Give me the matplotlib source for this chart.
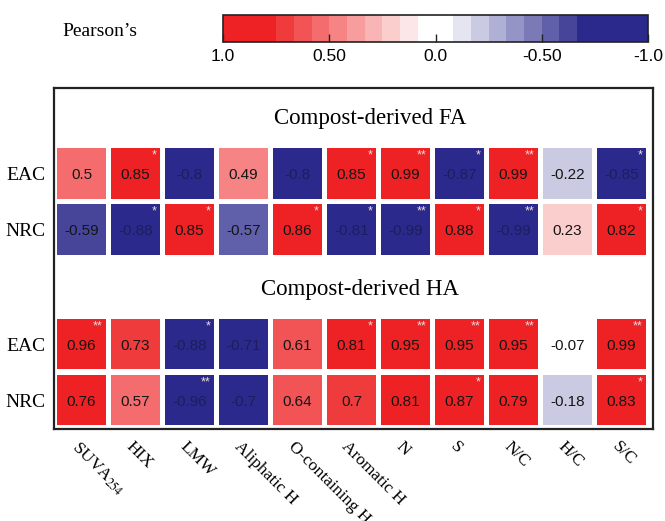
import numpy as np
import matplotlib
matplotlib.use("Agg")
import matplotlib.pyplot as plt
from matplotlib.colors import ListedColormap, BoundaryNorm
from matplotlib.patches import Rectangle
from matplotlib.cm import ScalarMappable

plt.rcParams['font.family'] = ['Liberation Sans', 'DejaVu Sans']
plt.rcParams['mathtext.fontset'] = 'stix'

#######################
###     data        ###
#######################

variables = ['SUVA$_{254}$', 'HIX', 'LMW', 'Aliphatic H', 'O-containing H',
             'Aromatic H', 'N', 'S', 'N/C', 'H/C', 'S/C']
groups = ['Compost-derived FA', 'Compost-derived HA']
row_names = ['EAC', 'NRC']

fa_eac = [0.5, 0.85, -0.8, 0.49, -0.8, 0.85, 0.99, -0.87, 0.99, -0.22, -0.85]
fa_nrc = [-0.59, -0.88, 0.85, -0.57, 0.86, -0.81, -0.99, 0.88, -0.99, 0.23, 0.82]
ha_eac = [0.96, 0.73, -0.88, -0.71, 0.61, 0.81, 0.95, 0.95, 0.95, -0.07, 0.99]
ha_nrc = [0.76, 0.57, -0.96, -0.7, 0.64, 0.7, 0.81, 0.87, 0.79, -0.18, 0.83]

fa_eac_sig = ['', '*', '', '', '', '*', '**', '*', '**', '', '*']
fa_nrc_sig = ['', '*', '*', '', '*', '*', '**', '*', '**', '', '*']
ha_eac_sig = ['**', '', '*', '', '', '*', '**', '**', '**', '', '**']
ha_nrc_sig = ['', '', '**', '', '', '', '', '*', '', '', '*']

cbar_ticks = [1.0, 0.5, 0.0, -0.5, -1.0]
cbar_ticklabels = ['1.0', '0.50', '0.0', '-0.50', '-1.0']

values = [[fa_eac, fa_nrc], [ha_eac, ha_nrc]]
sigs = [[fa_eac_sig, fa_nrc_sig], [ha_eac_sig, ha_nrc_sig]]

# stepped red-white-blue palette, 24 bins
red = np.array([238, 34, 36]) / 255
blue = np.array([43, 42, 140]) / 255
white = np.array([1.0, 1.0, 1.0])
cols = []
cols += [blue] * 4
for k in range(7, 0, -1):
    f = k / 8
    cols.append(white + f * (blue - white))
cols += [white] * 2
for k in range(8, 0, -1):
    f = 1 - k / 9
    cols.append(white + f * (red - white))
cols += [red] * 3
cmap = ListedColormap(cols)
bounds = np.linspace(-1, 1, 25)
norm = BoundaryNorm(bounds, cmap.N)

fig = plt.figure(figsize=(6.65, 5.21), dpi=100)
ax = fig.add_axes([54 / 665, 1 - 429 / 521, 599 / 665, 341 / 521])

cell = 0.9
group_step = 3.045
title_x = [5.34, 5.16]
ytick_pos = []
ytick_lab = []
for g, gname in enumerate(groups):
    y0 = g * group_step
    ax.text(title_x[g], y0 - 0.98, gname, ha='center', va='center', fontsize=16.5,
            family='Liberation Serif')
    for r, rname in enumerate(row_names):
        y = y0 + r
        ytick_pos.append(y)
        ytick_lab.append(rname)
        for i, v in enumerate(values[g][r]):
            ax.add_patch(Rectangle((i - cell / 2, y - cell / 2), cell, cell,
                                   facecolor=cmap(norm(v)), edgecolor='none'))
            tc = '#1d1d5e' if v < -0.65 else '#151515'
            ax.text(i, y + 0.03, f"{v:g}", ha='center', va='center',
                    fontsize=11, color=tc)
            s = sigs[g][r][i]
            if s:
                ax.text(i + cell / 2 - 0.06, y - cell / 2 + 0.02, s,
                        ha='right', va='top', fontsize=9, color='#f2dcdc')

ax.set_xlim(-0.509, 10.583)
ax.set_ylim(4.5625, -1.527)
ax.set_xticks(np.arange(len(variables)) - 0.03)
ax.set_xticklabels(variables, rotation=-45, ha='left', va='top',
                   rotation_mode='anchor', family='Liberation Serif', fontsize=12.5)
ax.set_yticks(ytick_pos)
ax.set_yticklabels(ytick_lab, family='Liberation Serif', fontsize=14)
ax.tick_params(axis='both', length=0)
ax.tick_params(axis='y', pad=6)
ax.tick_params(axis='x', pad=7)
for sp in ax.spines.values():
    sp.set_linewidth(1.6)
    sp.set_color('#222222')

# colorbar
cax = fig.add_axes([223 / 665, 1 - 42 / 521, 425 / 665, 27 / 521])
sm = ScalarMappable(norm=norm, cmap=cmap)
cb = fig.colorbar(sm, cax=cax, orientation='horizontal', ticks=cbar_ticks)
cax.invert_xaxis()
cax.minorticks_off()
cb.set_ticklabels(cbar_ticklabels)
cax.tick_params(direction='in', length=6, width=1, pad=5, labelsize=12.5,
                color='#222222')
cb.outline.set_linewidth(1.2)
cb.outline.set_edgecolor('#222222')

fig.text(62 / 665, 1 - 32 / 521, 'Pearson\u2019s', ha='left', va='center',
         fontsize=14, family='Liberation Serif')

fig.savefig('out.png', dpi=100)
